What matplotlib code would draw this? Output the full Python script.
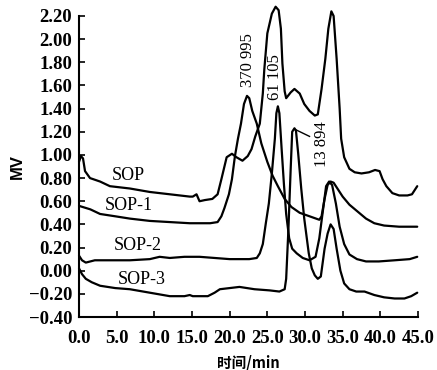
import matplotlib
matplotlib.use("Agg")
import matplotlib.pyplot as plt

# ---- data (retention time in min, signal in MV) ----
sop_t = [0, 0.26, 0.53, 0.8, 1.46, 2.8, 4.1, 6.75, 9.4, 12.05, 14.7, 15.1, 15.6, 16.0, 16.7, 17.7,
         18.4, 18.9, 19.6, 20.3, 20.9, 21.7, 22.4, 22.9, 23.4, 24.0, 24.4, 24.6, 25.0, 25.6, 26.1,
         26.5, 26.8, 27.0, 27.3, 27.5, 28.1, 28.6, 29.3, 29.9, 30.6, 31.3, 31.7, 32.2, 32.7, 33.1,
         33.5, 33.8, 34.2, 34.6, 34.8, 35.2, 35.9, 36.6, 37.5, 38.5, 39.3, 39.9, 40.3, 40.8, 41.6,
         42.5, 43.6, 44.2, 44.9]
sop_v = [0.94, 0.99, 0.97, 0.86, 0.80, 0.77, 0.73, 0.71, 0.68, 0.66, 0.64, 0.64, 0.66, 0.60, 0.61, 0.62,
         0.66, 0.79, 0.98, 1.01, 0.98, 0.95, 0.99, 1.05, 1.16, 1.27, 1.53, 1.74, 2.05, 2.22, 2.28,
         2.25, 2.09, 1.79, 1.55, 1.49, 1.54, 1.57, 1.53, 1.44, 1.38, 1.34, 1.35, 1.57, 1.83, 2.09,
         2.24, 2.20, 1.83, 1.40, 1.14, 0.98, 0.88, 0.85, 0.84, 0.85, 0.87, 0.86, 0.79, 0.73, 0.67,
         0.65, 0.65, 0.66, 0.73]

sop1_t = [0, 1.5, 2.8, 4.8, 6.75, 9.4, 12.05, 14.7, 17.4, 18.4, 18.9, 19.3, 19.9, 20.3, 20.7, 21.1,
          21.5, 21.9, 22.3, 22.6, 23.0, 23.6, 24.2, 25.0, 25.7, 26.4, 27.3, 28.2, 29.3, 30.6, 31.9,
          32.2, 32.6, 33.0, 33.4, 33.8, 34.3, 35.0, 35.9, 37.0, 38.1, 39.2, 40.5, 42.5, 44.9]
sop1_v = [0.56, 0.53, 0.49, 0.47, 0.45, 0.43, 0.42, 0.41, 0.41, 0.42, 0.47, 0.54, 0.66, 0.79, 0.99, 1.14,
          1.27, 1.44, 1.51, 1.49, 1.38, 1.27, 1.10, 0.94, 0.82, 0.73, 0.62, 0.55, 0.50, 0.47, 0.44,
          0.47, 0.62, 0.74, 0.77, 0.76, 0.71, 0.64, 0.57, 0.51, 0.45, 0.41, 0.39, 0.38, 0.38]

sop2_t = [0, 0.4, 0.9, 2.1, 4.1, 6.75, 9.4, 10.7, 12.05, 14.0, 16.0, 18.0, 20.0, 22.6, 23.6, 24.0,
          24.4, 24.8, 25.2, 25.6, 26.0, 26.2, 26.4, 26.6, 26.9, 27.2, 27.5, 27.9, 28.3, 28.9, 29.7,
          30.6, 31.4, 31.9, 32.5, 32.8, 33.2, 33.6, 34.1, 34.6, 35.2, 35.9, 36.9, 38.1, 39.8, 41.9,
          43.9, 44.9]
sop2_v = [0.13, 0.09, 0.07, 0.09, 0.09, 0.09, 0.10, 0.12, 0.11, 0.12, 0.12, 0.11, 0.10, 0.10, 0.11, 0.15,
          0.23, 0.41, 0.58, 0.84, 1.14, 1.36, 1.42, 1.36, 1.05, 0.75, 0.49, 0.28, 0.19, 0.15, 0.11,
          0.09, 0.12, 0.28, 0.58, 0.73, 0.77, 0.74, 0.58, 0.38, 0.23, 0.14, 0.10, 0.08, 0.08, 0.09,
          0.10, 0.12]

sop3_t = [0, 0.4, 0.9, 1.7, 2.8, 4.8, 6.75, 9.4, 12.05, 14.0, 14.7, 15.1, 16.0, 17.1, 18.0, 18.7,
          20.0, 21.3, 23.3, 25.3, 26.6, 27.3, 27.5, 27.8, 28.1, 28.3, 28.6, 28.8, 29.1, 29.5, 29.9,
          30.5, 30.9, 31.3, 31.7, 32.1, 32.6, 33.0, 33.4, 33.8, 34.2, 34.7, 35.2, 35.9, 36.8, 37.9,
          39.2, 40.5, 41.9, 43.2, 44.1, 44.9]
sop3_v = [0.02, -0.03, -0.07, -0.10, -0.13, -0.15, -0.16, -0.19, -0.22, -0.22, -0.21, -0.22, -0.22, -0.22, -0.19, -0.16,
          -0.15, -0.14, -0.16, -0.17, -0.18, -0.16, -0.07, 0.36, 0.88, 1.20, 1.23, 1.21, 1.01, 0.71, 0.45,
          0.15, 0.02, -0.04, -0.07, -0.05, 0.19, 0.32, 0.40, 0.36, 0.19, 0.00, -0.11, -0.16, -0.18, -0.18,
          -0.21, -0.23, -0.24, -0.24, -0.22, -0.19]

curve_names = ["SOP", "SOP-1", "SOP-2", "SOP-3"]
label_t = [6.6, 6.6, 7.8, 8.3]
label_v = [0.82, 0.56, 0.22, -0.08]

mw_labels = ["370 995", "61 105", "13 894"]
mw_t = [22.4, 26.0, 32.2]
mw_v = [1.82, 1.67, 1.09]

x_ticks = [0, 5, 10, 15, 20, 25, 30, 35, 40, 45]
y_ticks = [-0.4, -0.2, 0.0, 0.2, 0.4, 0.6, 0.8, 1.0, 1.2, 1.4, 1.6, 1.8, 2.0, 2.2]

# ---- figure ----
fig = plt.figure(figsize=(4.37, 3.70), dpi=100)
ax = fig.add_axes([0.1808, 0.1432, 0.7757, 0.8136])

serif = "Liberation Serif"
for t, v in [(sop_t, sop_v), (sop1_t, sop1_v), (sop2_t, sop2_v), (sop3_t, sop3_v)]:
    ax.plot(t, v, color="black", lw=1.6, solid_joinstyle="round", solid_capstyle="round", clip_on=False)

for name, tx, vy in zip(curve_names, label_t, label_v):
    ax.text(tx, vy, name, family=serif, fontsize=13, ha="center", va="center")

for lab, tx, vy in zip(mw_labels, mw_t, mw_v):
    ax.text(tx, vy, lab, family=serif, fontsize=12, rotation=90, ha="center", va="center")

# leader line for 13 894 label
ax.plot([28.7, 30.6], [1.22, 1.16], color="black", lw=1.0)

ax.set_xlim(0, 45)
ax.set_ylim(-0.4, 2.2)
ax.set_xticks(x_ticks)
ax.set_xticklabels([f"{x:.1f}" for x in x_ticks])
ax.set_yticks(y_ticks)
ax.set_yticklabels([("\u2212" if y < -1e-9 else "") + f"{abs(y):.2f}" for y in y_ticks])
ax.tick_params(direction="in", length=4, width=1.2)
ax.tick_params(axis="x", pad=9)
ax.tick_params(axis="y", pad=5)
for lab in ax.get_xticklabels() + ax.get_yticklabels():
    lab.set_family(serif)
    lab.set_fontsize(13.5)
    lab.set_fontweight("bold")

ax.spines["top"].set_visible(False)
ax.spines["right"].set_visible(False)
ax.spines["left"].set_linewidth(1.5)
ax.spines["bottom"].set_linewidth(1.5)

ax.set_ylabel("MV", family="Liberation Sans", fontweight="bold", fontsize=12, labelpad=3)
ax.set_xlabel("时间/min", family=["Noto Sans CJK SC", "DejaVu Sans"], fontweight="bold", fontsize=10.5, labelpad=6)

fig.savefig("out.png", dpi=100)
